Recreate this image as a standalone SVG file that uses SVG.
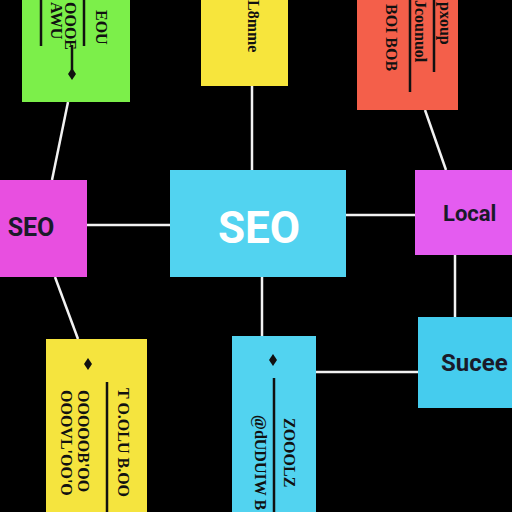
<svg xmlns="http://www.w3.org/2000/svg" width="512" height="512" viewBox="0 0 512 512">
<style>
.c{stroke:#f2f2f2;stroke-width:2.5;fill:none}
.r{stroke:#111;stroke-width:2.5;fill:none}
.n{font-family:"Liberation Serif","DejaVu Serif",serif;font-weight:bold;font-size:16px;fill:#111}
.big{font-family:Roboto,"Liberation Sans",sans-serif;font-weight:bold}
</style>
<rect width="512" height="512" fill="#000"/>
<g id="connectors">
<line class="c" x1="68" y1="102" x2="52" y2="180"/>
<line class="c" x1="252" y1="86" x2="252" y2="170"/>
<line class="c" x1="425" y1="110" x2="446" y2="170"/>
<line class="c" x1="87" y1="225" x2="170" y2="225"/>
<line class="c" x1="346" y1="215" x2="415" y2="215"/>
<line class="c" x1="55" y1="277" x2="78" y2="339"/>
<line class="c" x1="262" y1="277" x2="262" y2="336"/>
<line class="c" x1="455" y1="255" x2="455" y2="317"/>
<line class="c" x1="316" y1="372" x2="418" y2="372"/>
</g>
<g id="note-green">
<rect x="22" y="0" width="108" height="102" fill="#7CEF4A"/>
<line class="r" x1="41" y1="0" x2="41" y2="46"/>
<line class="r" x1="84" y1="0" x2="84" y2="46"/>
<line class="r" x1="72" y1="45" x2="72" y2="74"/>
<path d="M72 68 L76 74 L72 80 L68 74 Z" fill="#111"/>
<text class="n" transform="translate(51,2) rotate(90)">AWU</text>
<text class="n" transform="translate(65,2) rotate(90)">OOOE</text>
<text class="n" transform="translate(96,10) rotate(90)">EOU</text>
</g>
<g id="note-yellow-top">
<rect x="201" y="0" width="87" height="86" fill="#F7E53C"/>
<text class="n" transform="translate(248,0) rotate(90)">L8mme</text>
</g>
<g id="note-red">
<rect x="357" y="0" width="101" height="110" fill="#F45F4A"/>
<line class="r" x1="410" y1="0" x2="410" y2="92"/>
<line class="r" x1="434" y1="0" x2="434" y2="72"/>
<text class="n" transform="translate(386,4) rotate(90)">BOI BOB</text>
<text class="n" transform="translate(415,0) rotate(90)">Jcounuol</text>
<text class="n" transform="translate(440,2) rotate(90)">pxoup</text>
</g>
<g id="node-seo-left">
<rect x="0" y="180" width="87" height="97" fill="#E84FE0"/>
<text class="big" x="31" y="236" font-size="25" fill="#1a1a2a" text-anchor="middle" font-weight="500">SEO</text>
</g>
<g id="node-seo-center">
<rect x="170" y="170" width="176" height="107" fill="#52D3F0"/>
<text class="big" x="259" y="243" font-size="44" fill="#fff" text-anchor="middle">SEO</text>
</g>
<g id="node-local">
<rect x="415" y="170" width="97" height="85" fill="#E45CF0"/>
<text class="big" x="443" y="221" font-size="22" fill="#1a1a2a">Local</text>
</g>
<g id="node-succe">
<rect x="418" y="317" width="94" height="91" fill="#45CCEE"/>
<text class="big" x="441" y="371" font-size="24" fill="#1a1a2a">Sucee</text>
</g>
<g id="note-yellow-bottom">
<rect x="46" y="339" width="101" height="173" fill="#F5E43E"/>
<path d="M88 358 L92 364 L88 370 L84 364 Z" fill="#111"/>
<line class="r" x1="107" y1="382" x2="107" y2="512"/>
<text class="n" transform="translate(61,390) rotate(90)">OOOVL'OO'O</text>
<text class="n" transform="translate(78,390) rotate(90)">OOOOOB'OO</text>
<text class="n" transform="translate(118,388) rotate(90)">T O.OLU B.OO</text>
</g>
<g id="note-cyan-bottom">
<rect x="232" y="336" width="84" height="176" fill="#52D3F0"/>
<path d="M273 354 L277 360 L273 366 L269 360 Z" fill="#111"/>
<line class="r" x1="274" y1="378" x2="274" y2="512"/>
<text class="n" transform="translate(255,415) rotate(90)">@dUDUIW B</text>
<text class="n" transform="translate(284,418) rotate(90)">ZOOOLZ</text>
</g>
</svg>
